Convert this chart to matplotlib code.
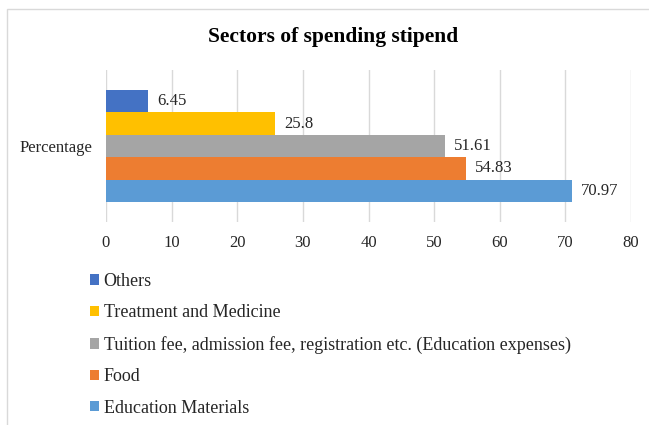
import matplotlib.pyplot as plt
from matplotlib.patches import Rectangle

plt.rcParams['font.family'] = ['Liberation Serif', 'DejaVu Serif']

# --- Data ---
sectors = ['Others', 'Treatment and Medicine',
           'Tuition fee, admission fee, registration etc. (Education expenses)',
           'Food', 'Education Materials']
values = [6.45, 25.8, 51.61, 54.83, 70.97]
colors = ['#4472C4', '#FFC000', '#A5A5A5', '#ED7D31', '#5B9BD5']
xticks = [0, 10, 20, 30, 40, 50, 60, 70, 80]

W, H = 649, 425
TXT = '#262626'
fig = plt.figure(figsize=(W / 100, H / 100), dpi=100)
fig.patch.set_facecolor('white')

# chart border
fig.patches.append(Rectangle((7 / W, -0.05), 1.0, 1 - 9 / H + 0.05, transform=fig.transFigure,
                             facecolor='none', edgecolor='#d9d9d9', linewidth=1.0))

ax = fig.add_axes([106 / W, (H - 222) / H, (631 - 106) / W, 152 / H])

bar_h = 0.15
offsets = [0.3, 0.15, 0.0, -0.15, -0.3]
bars = []
for name, val, col, off in zip(sectors, values, colors, offsets):
    b = ax.barh(off, val, height=bar_h, color=col, label=name, zorder=3)
    bars.append(b)
    ax.text(val + 1.4, off, f'{val:g}', ha='left', va='center', fontsize=12, color=TXT)

ax.set_xlim(0, 80)
ax.set_ylim(-0.51, 0.51)
ax.set_xticks(xticks)
ax.set_xticklabels([str(t) for t in xticks], fontsize=12, color=TXT)
ax.tick_params(axis='x', length=0, pad=9.5)
ax.set_yticks([0])
ax.set_yticklabels(['Percentage'], fontsize=12, color=TXT)
ax.tick_params(axis='y', length=0, pad=10)
ax.grid(axis='x', color='#d9d9d9', linewidth=1.0, zorder=0)
for s in ax.spines.values():
    s.set_visible(False)

fig.text(333 / W, 1 - 37 / H, 'Sectors of spending stipend', ha='center', va='center',
         fontsize=15.5, fontweight='bold', color='black')

fig.legend(handles=[b[0] for b in bars], labels=sectors, loc='upper left',
           bbox_to_anchor=(90 / W, 1 - 273 / H), frameon=False, fontsize=13,
           borderpad=0, borderaxespad=0,
           handlelength=0.5, handleheight=0.5, handletextpad=0.25, labelspacing=0.8,
           labelcolor=TXT)

fig.savefig('out.png', dpi=100, facecolor='white')
